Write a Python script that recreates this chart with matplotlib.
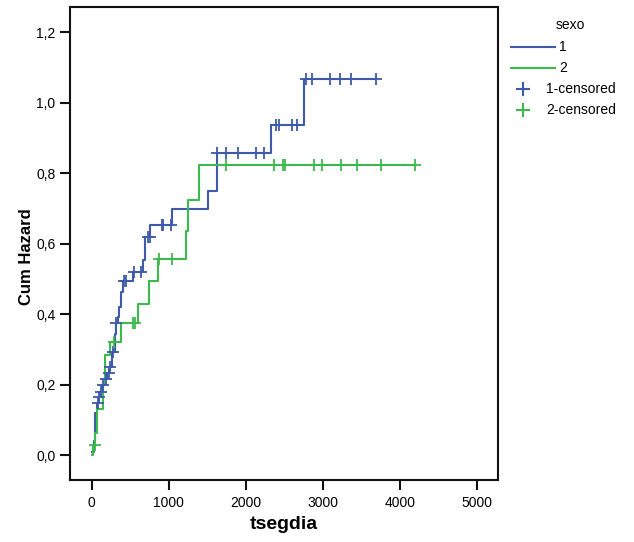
import numpy as np
import matplotlib.pyplot as plt
from matplotlib.lines import Line2D
from matplotlib.ticker import FuncFormatter

plt.rcParams['font.family'] = ['Liberation Sans', 'DejaVu Sans']

# Cumulative hazard step functions by sexo (event times, hazard after step)
t1 = [0, 25, 39, 70, 90, 110, 140, 170, 205, 230, 260, 300, 315, 348, 361, 375, 410,
      542, 671, 697, 761, 1049, 1514, 1622, 2335, 2755, 3690]
h1 = [0.01, 0.04, 0.12, 0.147, 0.165, 0.18, 0.20, 0.215, 0.233, 0.25, 0.293, 0.345, 0.374,
      0.392, 0.42, 0.463, 0.494, 0.52, 0.553, 0.618, 0.652, 0.697, 0.749, 0.856, 0.935,
      1.066, 1.066]
c1 = [82, 95, 125, 146, 189, 224, 240, 275, 320, 426, 448, 555, 641, 727, 757, 907, 920,
      1028, 1630, 1746, 1900, 2133, 2232, 2391, 2434, 2598, 2667, 2778, 2865, 3093, 3222,
      3372, 3690]

t2 = [0, 15, 45, 68, 146, 168, 232, 383, 606, 740, 860, 1225, 1255, 1390, 4200]
h2 = [0.0, 0.03, 0.062, 0.13, 0.203, 0.284, 0.321, 0.374, 0.43, 0.494, 0.555, 0.635,
      0.725, 0.823, 0.823]
c2 = [39, 288, 533, 560, 877, 1041, 1746, 2374, 2490, 2515, 2886, 2985, 3243, 3449,
      3759, 4200]

groups = ['1', '2']
blue = '#3d5aab'
green = '#3cba4b'

W, H = 634, 542


def step_at(times, vals, c):
    idx = np.searchsorted(times, c, side='right') - 1
    return np.asarray(vals)[idx]


def fx(px):
    return px / W


def fy(py):
    return 1 - py / H


fig = plt.figure(figsize=(W / 100, H / 100), dpi=100)
ax = fig.add_axes([fx(69.5), fy(479.5), (497.5 - 69.5) / W, (479.5 - 7) / H])

ax.plot(t1, h1, drawstyle='steps-post', color=blue, lw=1.5)
ax.plot(t2, h2, drawstyle='steps-post', color=green, lw=1.5)
ax.plot(c1, step_at(t1, h1, c1), '+', color=blue, ms=8.5, mew=1.3)
ax.plot(c2, step_at(t2, h2, c2), '+', color=green, ms=8.5, mew=1.3)

ax.set_xlim(-288, 5270)
ax.set_ylim(-0.069, 1.271)
ax.set_xticks([0, 1000, 2000, 3000, 4000, 5000])
ax.set_yticks([0.0, 0.2, 0.4, 0.6, 0.8, 1.0, 1.2])
ax.yaxis.set_major_formatter(FuncFormatter(lambda v, p: f'{v:.1f}'.replace('.', ',')))
ax.tick_params(direction='out', length=7, width=1.5, labelsize=10, color='#111111')
ax.tick_params(axis='x', pad=5)
ax.tick_params(axis='y', pad=3)

for s in ax.spines.values():
    s.set_linewidth(1.5)
    s.set_color('#111111')

ax.set_xlabel('tsegdia', fontsize=14, fontweight='bold', labelpad=4)
fig.text(fx(27), fy(257), 'Cum Hazard', fontsize=12, fontweight='bold',
         rotation=90, ha='center', va='center')

# legend drawn by hand: lines and censor marks sit at different offsets
fig.text(fx(570), fy(25), 'sexo', fontsize=10, ha='center', va='center')
for py, col, lab in [(46.7, blue, groups[0]), (67.7, green, groups[1])]:
    fig.add_artist(Line2D([fx(511), fx(555)], [fy(py), fy(py)], color=col, lw=1.5))
    fig.text(fx(559), fy(py), lab, fontsize=10, va='center')
for py, col, lab in [(89.3, blue, groups[0]), (110.3, green, groups[1])]:
    fig.add_artist(Line2D([fx(523)], [fy(py)], color=col, marker='+', ms=10, mew=1.5))
    fig.text(fx(546), fy(py), lab + '-censored', fontsize=10, va='center')

fig.savefig('out.png', dpi=100)
